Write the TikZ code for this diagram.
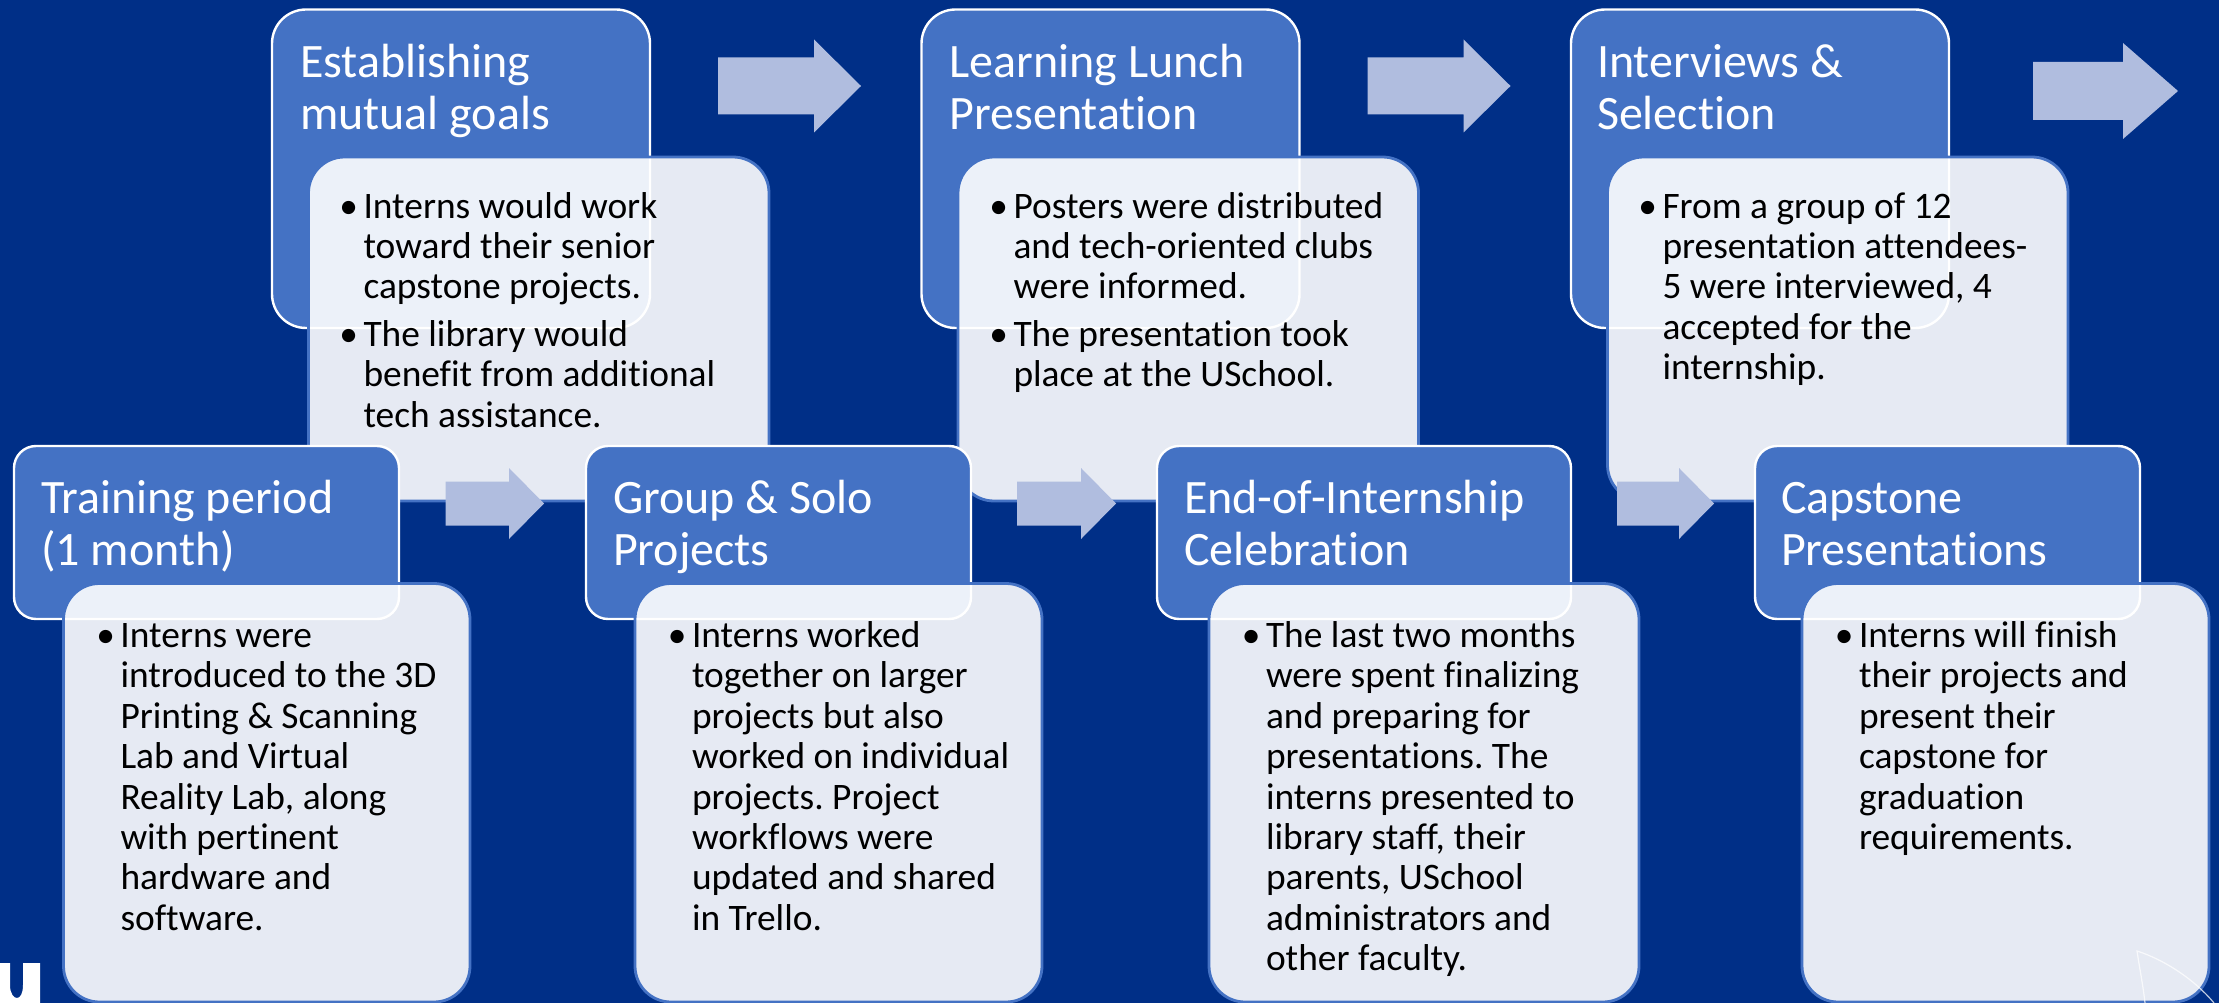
\documentclass[tikz,border=0pt]{standalone}
\usepackage{fontspec}
\setmainfont[Ligatures={NoCommon,NoContextual},RawFeature={-liga;-clig;-dlig}]{Carlito}
\definecolor{bgnavy}{HTML}{002F87}
\definecolor{headblue}{HTML}{4472C4}
\definecolor{arrowtint}{HTML}{B0BDDF}
\newcommand{\HeadSize}{\fontsize{48}{52}\selectfont\frenchspacing}
\newcommand{\BodySize}{\fontsize{37.4}{40.4}\selectfont\frenchspacing}
\tikzset{
  x=1pt,y=-1pt,
  headbox/.style={draw=white,line width=2.4pt,fill=headblue,rounded corners=#1,inner sep=0pt},
  bodybox/.style={draw=headblue,line width=2.8pt,fill=white,fill opacity=0.9,rounded corners=36pt,inner sep=0pt},
  headtxt/.style={anchor=north west,inner sep=0pt,outer sep=0pt,align=left,text=white,font=\HeadSize},
  bodytxt/.style={anchor=north west,inner sep=0pt,outer sep=0pt,align=left,text=black,font=\BodySize},
  blockarrow/.style={fill=arrowtint},
}
% box between two corners: style, name, x1, y1, x2, y2
\newcommand{\BoxAt}[6]{%
  \pgfmathsetmacro{\bw}{#5-#3}\pgfmathsetmacro{\bh}{#6-#4}%
  \pgfmathsetmacro{\bcx}{(#3+#5)/2}\pgfmathsetmacro{\bcy}{(#4+#6)/2}%
  \node[#1,minimum width=\bw pt,minimum height=\bh pt] (#2) at (\bcx,\bcy) {};}
% name, x, first baseline, text
\newcommand{\HeadText}[4]{\node[headtxt] (#1) at (#2,#3-36.4) {\strut #4};}
\newcommand{\BodyText}[4]{\node[bodytxt] (#1) at (#2,#3-28.28) {\strut #4};}
\newcommand{\Bul}{\llap{\textbullet\hspace{5.5pt}}}
% x0, head base x, tip x, mid y, shaft half, head half
\newcommand{\BlockArrow}[6]{\fill[blockarrow] (#1,#4-#5) -- (#2,#4-#5) -- (#2,#4-#6) -- (#3,#4) -- (#2,#4+#6) -- (#2,#4+#5) -- (#1,#4+#5) -- cycle;}
\begin{document}
\begin{tikzpicture}
\useasboundingbox (0,0) rectangle (2219,1003);
\clip (0,0) rectangle (2219,1003);
\fill[bgnavy] (0,0) rectangle (2219,1003);

% logo fragment
\fill[white] (0,963) -- (10,963) -- (10,985) .. controls (10,994) and (14,998) .. (17,998) .. controls (20,998) and (23,994) .. (23,985) -- (23,963) -- (40,963) -- (40,1003) -- (0,1003) -- cycle;

% top row
\BoxAt{headbox=34pt}{h1}{272}{9.5}{650}{328}
\BoxAt{headbox=34pt}{h2}{921.5}{9.5}{1299.5}{328}
\BoxAt{headbox=34pt}{h3}{1571}{9.5}{1949}{328}
\BoxAt{bodybox}{b1}{308.5}{157}{769}{501}
\BoxAt{bodybox}{b2}{958}{157}{1418.5}{501}
\BoxAt{bodybox}{b3}{1607.5}{157}{2068}{501}

\HeadText{t1}{300}{78}{Establishing\\mutual goals}
\HeadText{t2}{949.5}{78}{Learning Lunch\\Presentation}
\HeadText{t3}{1597}{78}{Interviews \&\\Selection}

\BodyText{c1}{363.5}{218}{\Bul Interns would work\\toward their senior\\capstone projects.\\[7pt]\Bul The library would\\benefit from additional\\tech assistance.}
\BodyText{c2}{1013.5}{218}{\Bul Posters were distributed\\and tech-oriented clubs\\were informed.\\[7pt]\Bul The presentation took\\place at the USchool.}
\BodyText{c3}{1662.5}{218}{\Bul From a group of 12\\presentation attendees-\\5 were interviewed, 4\\accepted for the\\internship.}

\BlockArrow{718}{814}{861}{86}{28.5}{46.5}
\BlockArrow{1367.5}{1463.5}{1510.5}{86}{28.5}{46.5}
\BlockArrow{2033}{2123}{2178}{91}{29}{48}

% small arrows
\BlockArrow{445.5}{509}{544}{503.5}{22}{35.5}
\BlockArrow{1017}{1081}{1116}{503.5}{22}{35.5}
\BlockArrow{1617}{1679}{1714}{503.5}{22}{35.5}

% bottom row
\BoxAt{headbox=22pt}{h4}{14}{446}{399}{619}
\BoxAt{headbox=22pt}{h5}{586}{446}{971}{619}
\BoxAt{headbox=22pt}{h6}{1157}{446}{1571}{619}
\BoxAt{headbox=22pt}{h7}{1755}{446}{2140}{619}
\BoxAt{bodybox}{b4}{63.5}{583.5}{470}{1002}
\BoxAt{bodybox}{b5}{635}{583.5}{1042}{1002}
\BoxAt{bodybox}{b6}{1209}{583.5}{1639}{1002}
\BoxAt{bodybox}{b7}{1802}{583.5}{2209}{1002}

\HeadText{t4}{41}{513}{Training period\\(1 month)}
\HeadText{t5}{613}{513}{Group \& Solo\\Projects}
\HeadText{t6}{1184}{513}{End-of-Internship\\Celebration}
\HeadText{t7}{1781}{513}{Capstone\\Presentations}

\BodyText{c4}{120.5}{647.5}{\Bul Interns were\\introduced to the 3D\\Printing \& Scanning\\Lab and Virtual\\Reality Lab, along\\with pertinent\\hardware and\\software.}
\BodyText{c5}{692}{647.5}{\Bul Interns worked\\together on larger\\projects but also\\worked on individual\\projects. Project\\workflows were\\updated and shared\\in Trello.}
\BodyText{c6}{1266}{647.5}{\Bul The last two months\\were spent finalizing\\and preparing for\\presentations. The\\interns presented to\\library staff, their\\parents, USchool\\administrators and\\other faculty.}
\BodyText{c7}{1859}{647.5}{\Bul Interns will finish\\their projects and\\present their\\capstone for\\graduation\\requirements.}

% corner sketch
\draw[white,opacity=.75,line width=1.2pt] (2145,1003) .. controls (2143,985) and (2139,965) .. (2137,951) .. controls (2165,960) and (2195,980) .. (2214,1003);
\end{tikzpicture}
\end{document}
